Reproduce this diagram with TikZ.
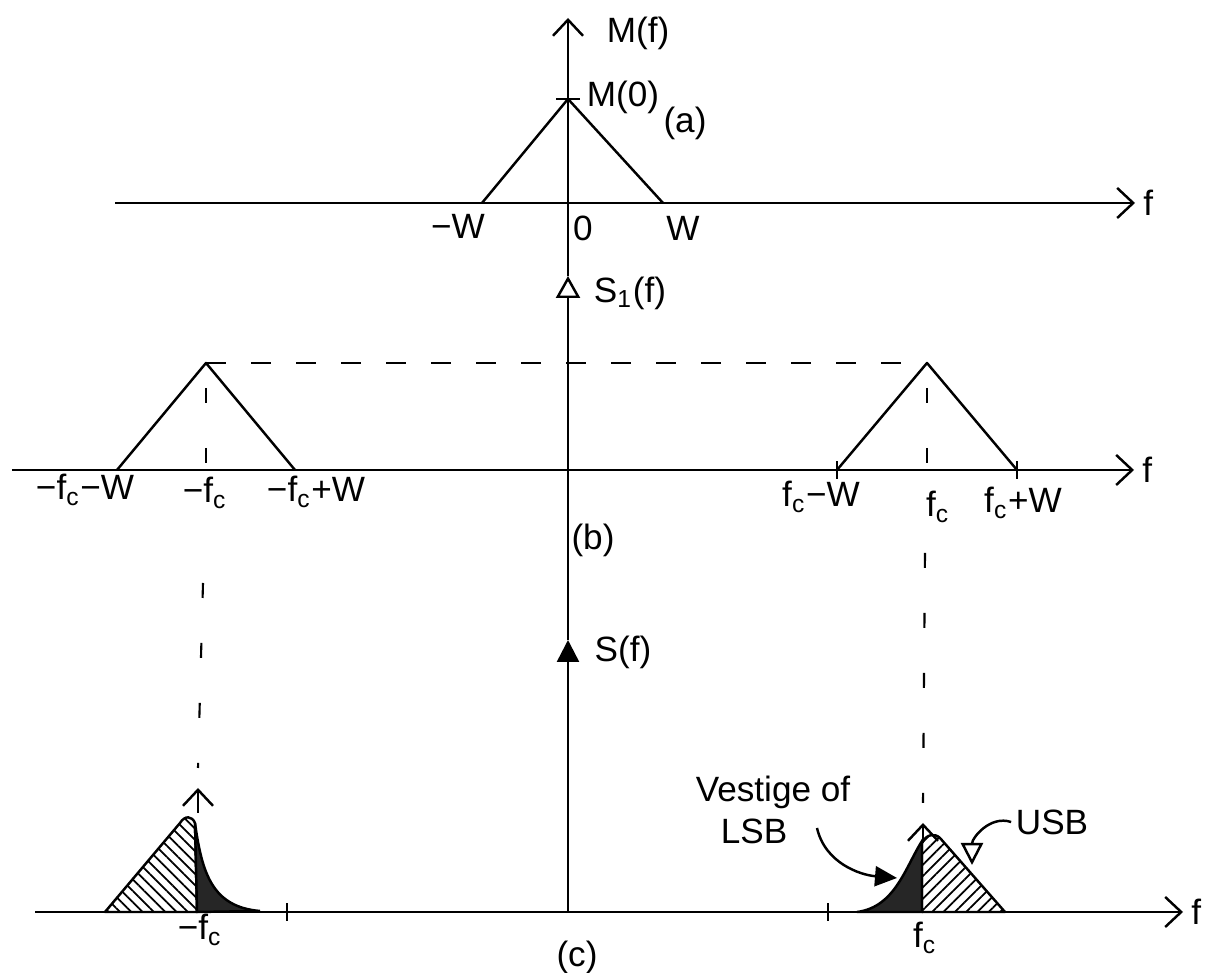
\documentclass[tikz,border=0pt]{standalone}
\usepackage{fontspec}
\setmainfont{Liberation Sans}
\usepackage{tikz}
\usetikzlibrary{arrows.meta, positioning, patterns.meta}

\begin{document}
\begin{tikzpicture}[
        >={Straight Barb[length=1.6mm, width=3mm]},
        line width=0.7pt,
        axis/.style={->, line width=0.7pt},
        lbl/.style={font=\fontsize{10}{12}\selectfont, inner sep=1pt},
        guide/.style={line width=0.6pt, dash pattern=on 2mm off 2.5mm},
        drop/.style={line width=0.6pt, dash pattern=on 1.5mm off 4.5mm},
        spec/.style={line width=0.7pt, line join=round},
        usbfill/.style={spec, pattern={Lines[angle=45, distance=0.8mm, line width=0.5pt]}},
        lsbfill/.style={spec, pattern={Lines[angle=-45, distance=0.8mm, line width=0.5pt]}},
        vestfill/.style={fill=black!85, draw=black, line width=0.7pt},
        callout/.style={-{Triangle[open, length=2.2mm, width=2.2mm]}, line width=0.7pt}
    ]
    \useasboundingbox (0,0) rectangle (12.09,9.73);
    \coordinate (top) at (5.68,9.55);
    \coordinate (s1tip) at (5.68,6.97);
    \coordinate (stip) at (5.68,3.33);
    \coordinate (bot) at (5.68,0.61);
    \draw[-{Triangle[length=2.2mm, width=2.2mm]}] (bot) -- (stip);
    \draw[-{Triangle[open, length=2.2mm, width=2.4mm]}] (stip) -- (s1tip);
    \draw[->] (s1tip) -- (top);
    \coordinate (aL) at (1.15,7.70);
    \coordinate (aR) at (11.35,7.70);
    \draw[axis] (aL) -- (aR);
    \node[lbl, right=1pt of aR] (fa) {f};
    \coordinate (m0) at (5.68,8.74);
    \draw ([xshift=-1.2mm]m0) -- ([xshift=1.2mm]m0);
    \draw[spec] (4.82,7.70) -- (m0) -- (6.63,7.70);
    \node[lbl] (mf) at (6.38,9.40) {M(f)};
    \node[lbl] (mzero) at (6.23,8.76) {M(0)};
    \node[lbl] (lblA) at (6.85,8.50) {(a)};
    \node[lbl] (mw) at (4.58,7.47) {−W};
    \node[lbl] (zero) at (5.83,7.45) {0};
    \node[lbl] (pw) at (6.83,7.45) {W};
    \coordinate (bL) at (0.12,5.03);
    \coordinate (bR) at (11.34,5.03);
    \draw[axis] (bL) -- (bR);
    \node[lbl, right=1pt of bR] (fb) {f};
    \coordinate (lpk) at (2.06,6.10);
    \coordinate (rpk) at (9.27,6.10);
    \draw[spec] (1.17,5.03) -- (lpk) -- (2.95,5.03);
    \draw[spec] (8.37,5.03) -- (rpk) -- (10.17,5.03);
    \draw[guide] (lpk) -- (rpk);
    \foreach \x in {8.37,10.17} \draw (\x,4.94) -- (\x,5.12);
    \node[lbl] (mfcmw) at (0.85,4.83) {−f\textsubscript{c}−W};
    \node[lbl] (mfc) at (2.05,4.80) {−f\textsubscript{c}};
    \node[lbl] (mfcpw) at (3.16,4.81) {−f\textsubscript{c}+W};
    \node[lbl] (fcmw) at (8.21,4.76) {f\textsubscript{c}−W};
    \node[lbl] (fcb) at (9.38,4.66) {f\textsubscript{c}};
    \node[lbl] (fcpw) at (10.23,4.70) {f\textsubscript{c}+W};
    \node[lbl] (sone) at (6.30,6.80) {S\textsubscript{1}(f)};
    \node[lbl] (lblB) at (5.93,4.33) {(b)};
    \node[lbl] (sf) at (6.23,3.21) {S(f)};
    \coordinate (cL) at (0.35,0.61);
    \coordinate (cR) at (11.83,0.61);
    \draw[axis] (cL) -- (cR);
    \node[lbl, right=1pt of cR] (fc) {f};
    \coordinate (lcar) at (1.98,1.85);
    \coordinate (rcar) at (9.23,1.50);
    \draw[drop] ([yshift=-2.5mm]lpk) -- (lpk |- bL);
    \draw[drop] ([yshift=-2.5mm]rpk) -- (rpk |- bL);
    \draw[drop] (2.03,3.90) -- ([yshift=2mm]lcar);
    \draw[drop] (9.25,4.20) -- ([yshift=2mm]rcar);
    \draw[->] ([yshift=-2.5mm]lcar) -- (lcar);
    \draw[->] ([yshift=-2mm]rcar) -- (rcar);
    \draw[lsbfill] (1.05,0.61) -- (1.80,1.50) .. controls (1.85,1.58) and (1.92,1.57) .. (1.95,1.50) -- (1.97,0.61) -- cycle;
    \fill[vestfill] (1.95,1.50) .. controls (2.02,1.00) and (2.12,0.66) .. (2.60,0.62) -- (1.97,0.61) -- cycle;
    \draw (2.87,0.52) -- (2.87,0.70);
    \fill[vestfill] (8.57,0.61) .. controls (8.95,0.66) and (9.05,1.05) .. (9.22,1.32) -- (9.22,0.61) -- cycle;
    \draw[usbfill] (9.22,0.61) -- (9.22,1.30) .. controls (9.26,1.39) and (9.35,1.40) .. (9.40,1.35) -- (10.05,0.61) -- cycle;
    \draw (8.28,0.52) -- (8.28,0.70);
    \node[lbl] (usb) at (10.52,1.51) {USB};
    \draw[callout] (usb.west) .. controls (9.90,1.58) and (9.72,1.35) .. (9.72,1.08);
    \node[lbl, align=left] (vest) at (7.73,1.63) {Vestige of\\\hspace{2.5mm}LSB};
    \coordinate (vtail) at (8.17,1.45);
    \coordinate (vhead) at (8.97,0.95);
    \draw[-{Triangle[length=2.2mm, width=2mm]}] (vtail) .. controls (8.25,1.10) and (8.60,0.98) .. (vhead);
    \node[lbl] (mfcc) at (2.00,0.43) {−f\textsubscript{c}};
    \node[lbl] (fcc) at (9.25,0.35) {f\textsubscript{c}};
    \node[lbl] (lblC) at (5.77,0.16) {(c)};
\end{tikzpicture}
\end{document}
